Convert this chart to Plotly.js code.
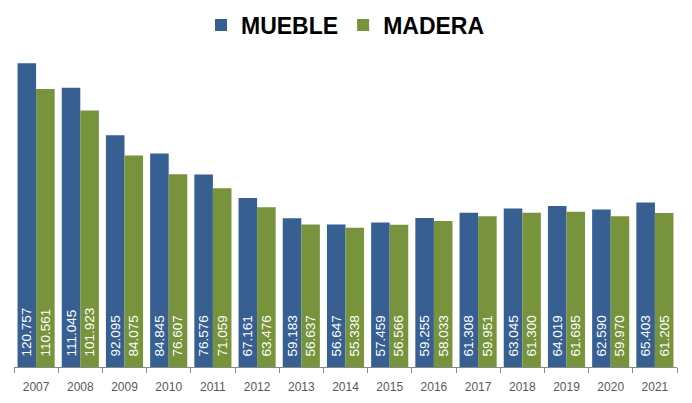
<!DOCTYPE html>
<html>
<head>
<meta charset="utf-8">
<script src="https://cdn.plot.ly/plotly-3.0.1.min.js"></script>
<style>html,body{margin:0;padding:0;background:#fff;}#chart{width:692px;height:403px;}</style>
</head>
<body>
<div id="chart"></div>
<script>
const years = ['2007','2008','2009','2010','2011','2012','2013','2014','2015','2016','2017','2018','2019','2020','2021'];
const mueble = [120757,111045,92095,84845,76576,67161,59183,56647,57459,59255,61308,63045,64019,62590,65403];
const madera = [110561,101923,84075,76607,71059,63476,56637,55338,56566,58033,59951,61300,61695,59970,61205];

const common = {
  type: 'bar',
  x: years,
  texttemplate: '\u00a0\u00a0%{y:,.0f}',
  textposition: 'inside',
  insidetextanchor: 'start',
  textangle: -90,
  constraintext: 'none',
  textfont: {family: 'Liberation Sans, Arial, sans-serif', size: 13.5, color: '#ffffff'},
  hoverinfo: 'skip'
};
const traces = [
  Object.assign({}, common, {name: 'MUEBLE', y: mueble, marker: {color: '#375F92'}}),
  Object.assign({}, common, {name: 'MADERA', y: madera, marker: {color: '#77933C'}})
];
const layout = {
  width: 692, height: 403,
  margin: {l: 14, r: 15, t: 40, b: 36, autoexpand: false},
  paper_bgcolor: '#ffffff', plot_bgcolor: '#ffffff',
  separators: ',.',
  barmode: 'group',
  bargap: 0.16,
  bargroupgap: 0,
  uniformtext: {minsize: 13.5, mode: 'show'},
  showlegend: true,
  legend: {
    orientation: 'h', x: 0.5, xanchor: 'center', y: 1.046, yanchor: 'middle',
    font: {family: 'Liberation Sans, Arial, sans-serif', size: 23, color: '#000000', weight: 'bold'},
    traceorder: 'normal'
  },
  xaxis: {
    type: 'category',
    showline: true, linecolor: '#888888', linewidth: 1,
    ticks: 'outside', ticklen: 5, tickcolor: '#888888', tickson: 'boundaries',
    ticklabelstandoff: 9,
    tickfont: {family: 'Liberation Sans, Arial, sans-serif', size: 12, color: '#595959'},
    showgrid: false, zeroline: false
  },
  yaxis: {
    range: [0, 130000], visible: false, showgrid: false, zeroline: false
  }
};
Plotly.newPlot('chart', traces, layout, {displayModeBar: false, staticPlot: true});
</script>
</body>
</html>
